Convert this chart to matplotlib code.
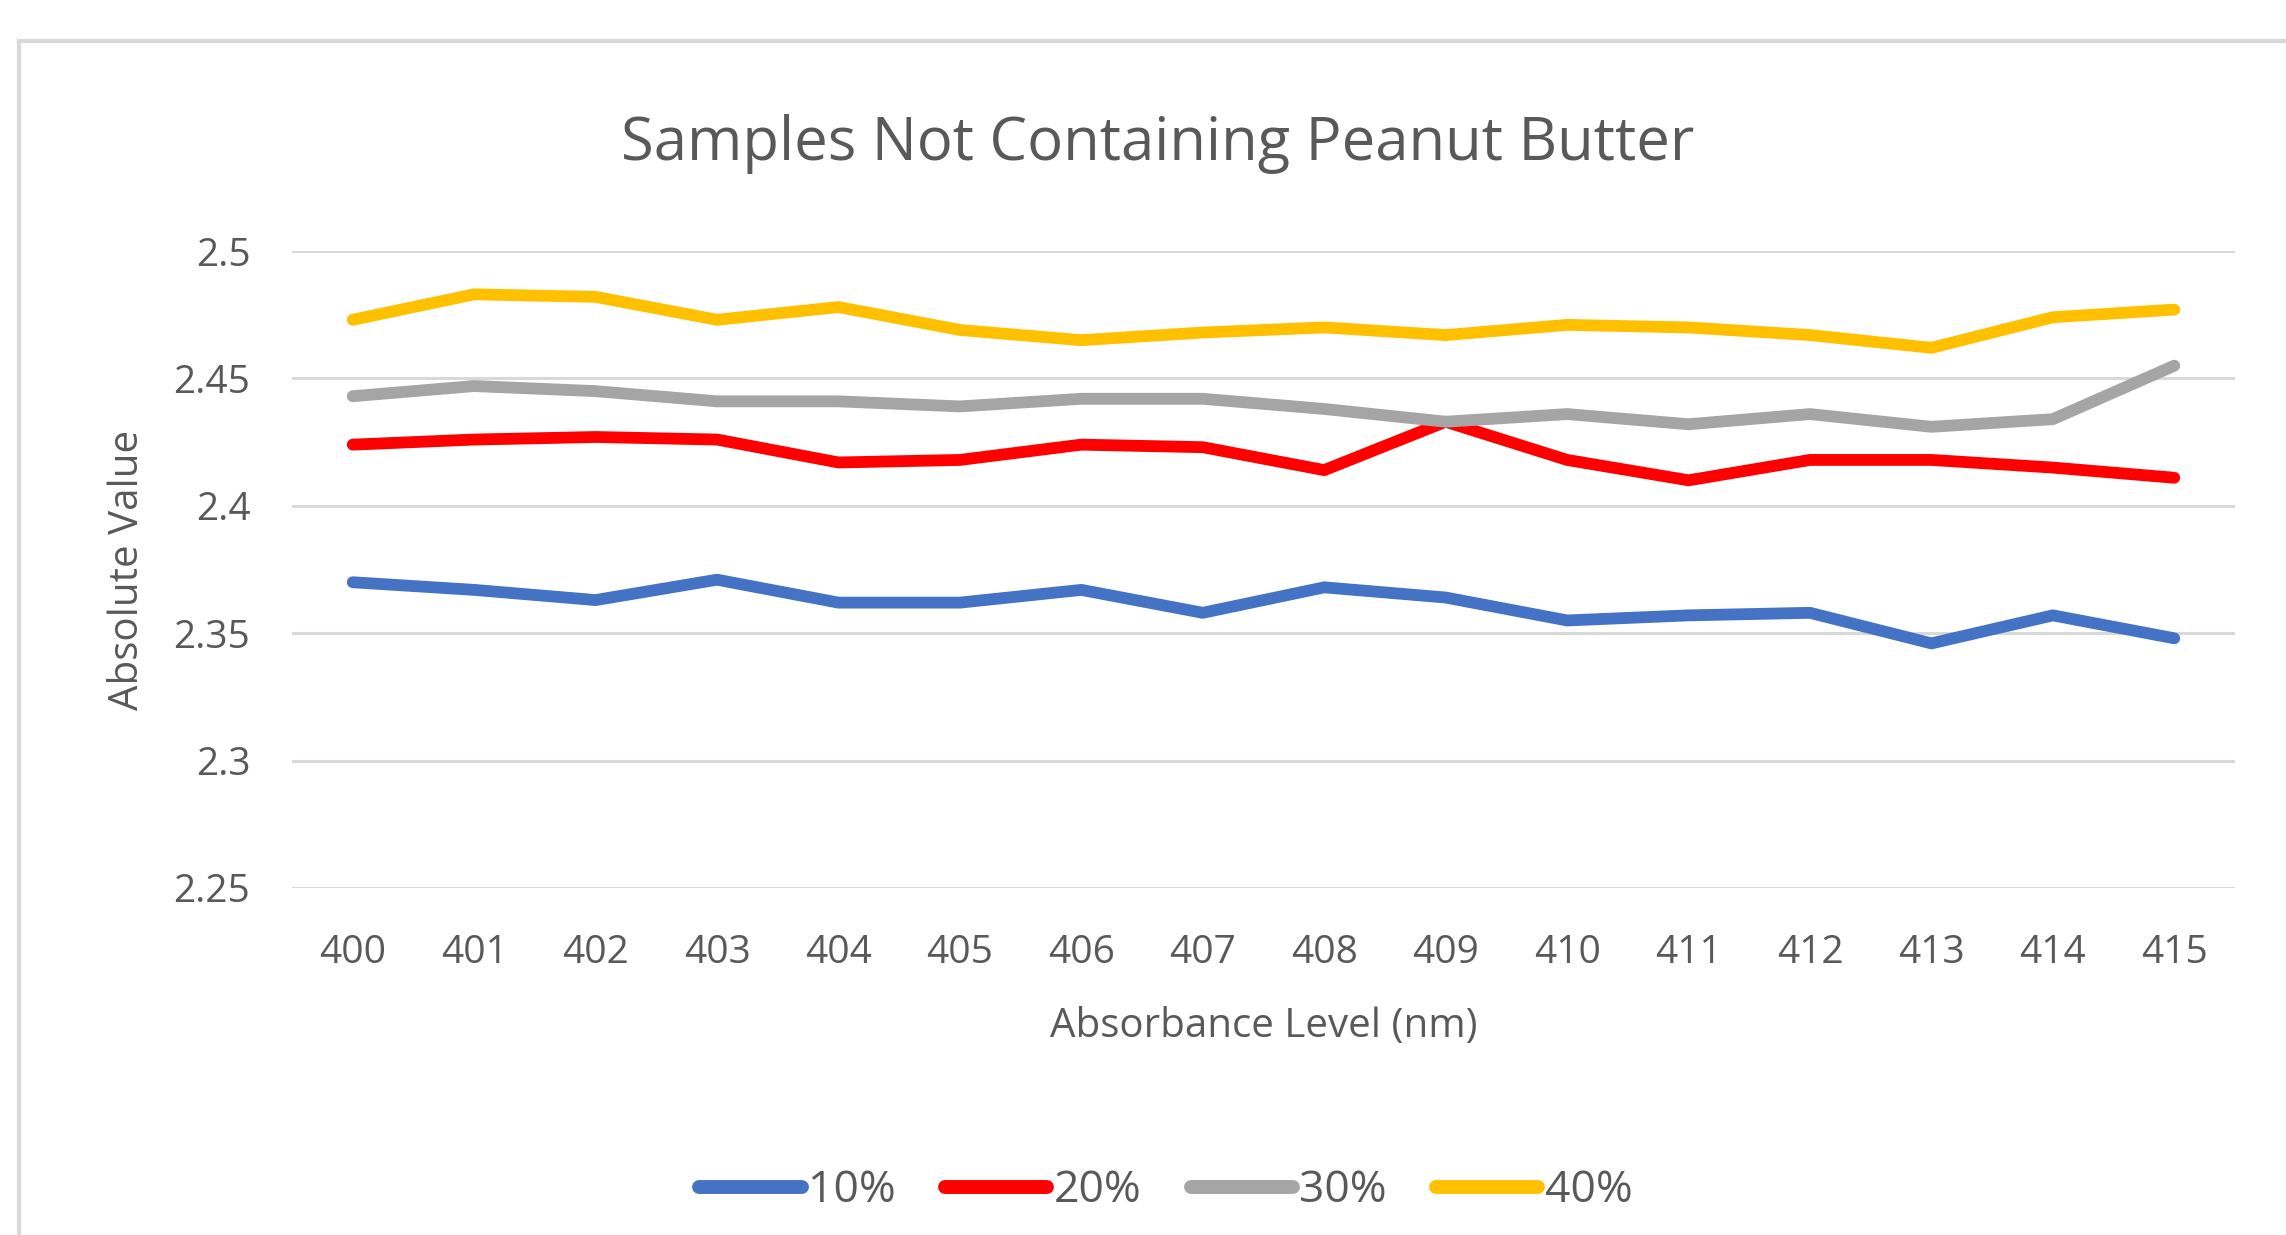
import matplotlib
matplotlib.use("Agg")
import matplotlib.pyplot as plt
from matplotlib.lines import Line2D

wavelengths = ["400", "401", "402", "403", "404", "405", "406", "407",
               "408", "409", "410", "411", "412", "413", "414", "415"]
series_names = ["10%", "20%", "30%", "40%"]
s10 = [2.370, 2.367, 2.363, 2.371, 2.362, 2.362, 2.367, 2.358,
       2.368, 2.364, 2.355, 2.357, 2.358, 2.346, 2.357, 2.348]
s20 = [2.424, 2.426, 2.427, 2.426, 2.417, 2.418, 2.424, 2.423,
       2.414, 2.433, 2.418, 2.410, 2.418, 2.418, 2.415, 2.411]
s30 = [2.443, 2.447, 2.445, 2.441, 2.441, 2.439, 2.442, 2.442,
       2.438, 2.433, 2.436, 2.432, 2.436, 2.431, 2.434, 2.455]
s40 = [2.473, 2.483, 2.482, 2.473, 2.478, 2.469, 2.465, 2.468,
       2.470, 2.467, 2.471, 2.470, 2.467, 2.462, 2.474, 2.477]
y_ticks = [2.25, 2.3, 2.35, 2.4, 2.45, 2.5]
y_tick_labels = ["2.25", "2.3", "2.35", "2.4", "2.45", "2.5"]

colors = ["#4472C4", "#FF0000", "#A5A5A5", "#FFC000"]
text_color = "#595959"
grid_color = "#D9D9D9"
plt.rcParams["font.family"] = ["Open Sans", "DejaVu Sans"]

W, H = 2286, 1235
fig = plt.figure(figsize=(W / 100, H / 100), dpi=100)
fig.patch.set_facecolor("white")

# screenshot frame (top and left edges)
fig.add_artist(Line2D([19 / W, 1.0], [1 - 41 / H, 1 - 41 / H],
                      color=grid_color, lw=3.0, transform=fig.transFigure))
fig.add_artist(Line2D([19 / W, 19 / W], [0, 1 - 41 / H],
                      color=grid_color, lw=3.0, transform=fig.transFigure))

left, right, top, bottom = 292, 2235, 251, 888
ax = fig.add_axes([left / W, 1 - bottom / H, (right - left) / W, (bottom - top) / H])

x = list(range(len(wavelengths)))
for vals, name, c in zip([s10, s20, s30, s40], series_names, colors):
    ax.plot(x, vals, color=c, lw=8.5, label=name, solid_capstyle="round",
            solid_joinstyle="round", zorder=3)

ax.set_xlim(-0.5, len(wavelengths) - 0.5)
ax.set_ylim(2.25, 2.5)
ax.set_yticks(y_ticks)
ax.set_yticklabels(y_tick_labels)
ax.set_xticks(x)
ax.set_xticklabels(wavelengths)
ax.yaxis.grid(True, color=grid_color, lw=2.2, zorder=0)
ax.set_axisbelow(True)
for s in ax.spines.values():
    s.set_visible(False)
ax.tick_params(axis="both", length=0, colors=text_color, labelsize=28)
ax.tick_params(axis="y", pad=30)
ax.tick_params(axis="x", pad=33)

ax.set_xlabel("Absorbance Level (nm)", fontsize=29, color=text_color, labelpad=25)
ax.set_ylabel("Absolute Value", fontsize=29, color=text_color, labelpad=18)

fig.text(1158 / W, 1 - 144 / H, "Samples Not Containing Peanut Butter",
         fontsize=43, color=text_color, ha="center", va="center")

leg = fig.legend(loc="center", bbox_to_anchor=(1166 / W, 1 - 1191 / H), ncol=4,
                 frameon=False, fontsize=32, handlelength=2.3, handletextpad=0.15,
                 columnspacing=1.1, labelcolor=text_color)
for h in leg.get_lines():
    h.set_linewidth(10)

fig.savefig("out.png", dpi=100, facecolor="white")
